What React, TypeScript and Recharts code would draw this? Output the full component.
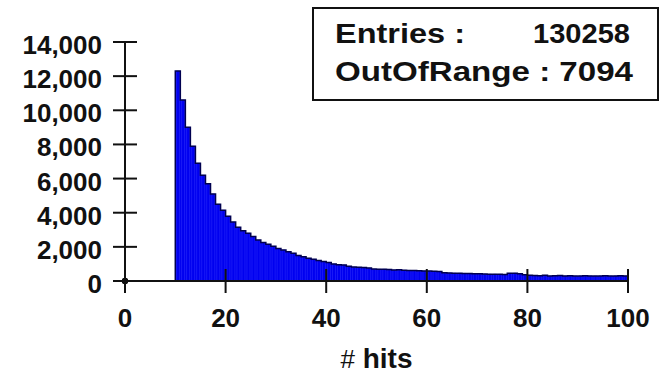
import React from 'react';
import { ComposedChart, Bar, Area, Line, XAxis, YAxis, ReferenceDot } from 'recharts';

// Histogram: bins of width 1 starting at 10 hits
const FIRST_BIN_EDGE = 10;
const BIN_WIDTH = 1;
const binCounts = [
  12300, 10600, 9000, 7900, 6900, 6200, 5700, 5100, 4500, 4150,
  3800, 3450, 3150, 2950, 2800, 2600, 2400, 2250, 2150, 2030,
  1900, 1820, 1720, 1620, 1500, 1420, 1330, 1270, 1200, 1140,
  1090, 1000, 950, 940, 860, 820, 800, 790, 760, 700,
  690, 690, 680, 650, 660, 630, 620, 610, 600, 590,
  580, 570, 560, 480, 470, 460, 450, 445, 440, 430,
  420, 410, 400, 400, 390, 380, 450, 460, 420, 360,
  330, 320, 310, 330, 300, 310, 320, 300, 310, 290,
  300, 310, 300, 290, 300, 310, 290, 300, 310, 300,
];
const xTicks = [0, 20, 40, 60, 80, 100];
const yTicks = [0, 2000, 4000, 6000, 8000, 10000, 12000, 14000];
const entriesLabel = 'Entries :';
const entriesValue = '130258';
const outOfRangeText = 'OutOfRange : 7094';
const xTitleSymbol = '#';
const xTitleWord = 'hits';

const barData = binCounts.map((c, i) => ({ x: FIRST_BIN_EDGE + (i + 0.5) * BIN_WIDTH, count: c }));
const outlineData = [
  { x: FIRST_BIN_EDGE, y: 0 },
  ...binCounts.map((c, i) => ({ x: FIRST_BIN_EDGE + i * BIN_WIDTH, y: c })),
  { x: FIRST_BIN_EDGE + binCounts.length * BIN_WIDTH, y: binCounts[binCounts.length - 1] },
];

const FONT = '"Liberation Sans", Arial, sans-serif';
const INK = '#111';
const BLUE = '#0000f0';

const XTick = (props: any) => {
  const { x, y, payload } = props;
  return (
    <g>
      <line x1={x} y1={y - 12} x2={x} y2={y + 12} stroke={INK} strokeWidth={2} />
      <text x={x} y={y + 46} textAnchor="middle" fontFamily={FONT} fontWeight="bold" fontSize={26} fill={INK}>
        {payload.value}
      </text>
    </g>
  );
};

const YTick = (props: any) => {
  const { x, y, payload } = props;
  return (
    <g>
      <line x1={x - 12} y1={y} x2={x + 12} y2={y} stroke={INK} strokeWidth={2} />
      <text x={x - 23} y={y + 12} textAnchor="end" fontFamily={FONT} fontWeight="bold" fontSize={26} fill={INK}>
        {Number(payload.value).toLocaleString('en-US')}
      </text>
    </g>
  );
};

const XTitle = (props: any) => {
  const vb = props.viewBox || {};
  const cx = vb.x + vb.width / 2;
  return (
    <text x={cx} y={368} textAnchor="middle" fontFamily={FONT} fontSize={28} fill={INK}>
      <tspan fontWeight="normal" fontSize={26}>{xTitleSymbol}</tspan>
      <tspan fontWeight="bold">{' ' + xTitleWord}</tspan>
    </text>
  );
};

export default function App() {
  return (
    <div style={{ position: 'absolute', left: 0, top: 0, width: 664, height: 375, background: '#fff' }}>
      <ComposedChart
        width={664}
        height={375}
        data={barData}
        margin={{ top: 42, right: 36, bottom: 0, left: 0 }}
        barCategoryGap={0}
        barGap={0}
      >
        <XAxis
          dataKey="x"
          type="number"
          domain={[0, 100]}
          ticks={xTicks}
          height={94}
          tickSize={0}
          tickMargin={0}
          tickLine={false}
          tick={<XTick />}
          axisLine={{ stroke: INK, strokeWidth: 2 }}
          allowDataOverflow
          label={{ content: <XTitle /> } as any}
        />
        <YAxis
          type="number"
          domain={[0, 14000]}
          ticks={yTicks}
          width={125}
          tickSize={0}
          tickMargin={0}
          tickLine={false}
          tick={<YTick />}
          axisLine={{ stroke: INK, strokeWidth: 2 }}
          allowDataOverflow
        />
        <Area
          data={outlineData}
          dataKey="y"
          type="stepAfter"
          fill={BLUE}
          fillOpacity={1}
          stroke="none"
          dot={false}
          activeDot={false}
          isAnimationActive={false}
        />
        <Bar dataKey="count" fill={BLUE} stroke="#4040ff" strokeWidth={0.4} isAnimationActive={false} />
        <Line
          data={outlineData}
          dataKey="y"
          type="stepAfter"
          stroke="#000050"
          strokeWidth={1.5}
          dot={false}
          activeDot={false}
          isAnimationActive={false}
        />
        <ReferenceDot x={0} y={0} r={3} fill={INK} stroke={INK} />
      </ComposedChart>
      <svg width={664} height={375} style={{ position: 'absolute', left: 0, top: 0, pointerEvents: 'none' }}>
        <rect x={313} y={8} width={345} height={92} fill="#fff" stroke={INK} strokeWidth={2} />
        <text x={335} y={43} fontFamily={FONT} fontWeight="bold" fontSize={27} fill={INK} textLength={130} lengthAdjust="spacingAndGlyphs">
          {entriesLabel}
        </text>
        <text x={630} y={43} textAnchor="end" fontFamily={FONT} fontWeight="bold" fontSize={27} fill={INK} textLength={97} lengthAdjust="spacingAndGlyphs">
          {entriesValue}
        </text>
        <text x={335} y={81} fontFamily={FONT} fontWeight="bold" fontSize={27} fill={INK} textLength={298} lengthAdjust="spacingAndGlyphs">
          {outOfRangeText}
        </text>
      </svg>
    </div>
  );
}
